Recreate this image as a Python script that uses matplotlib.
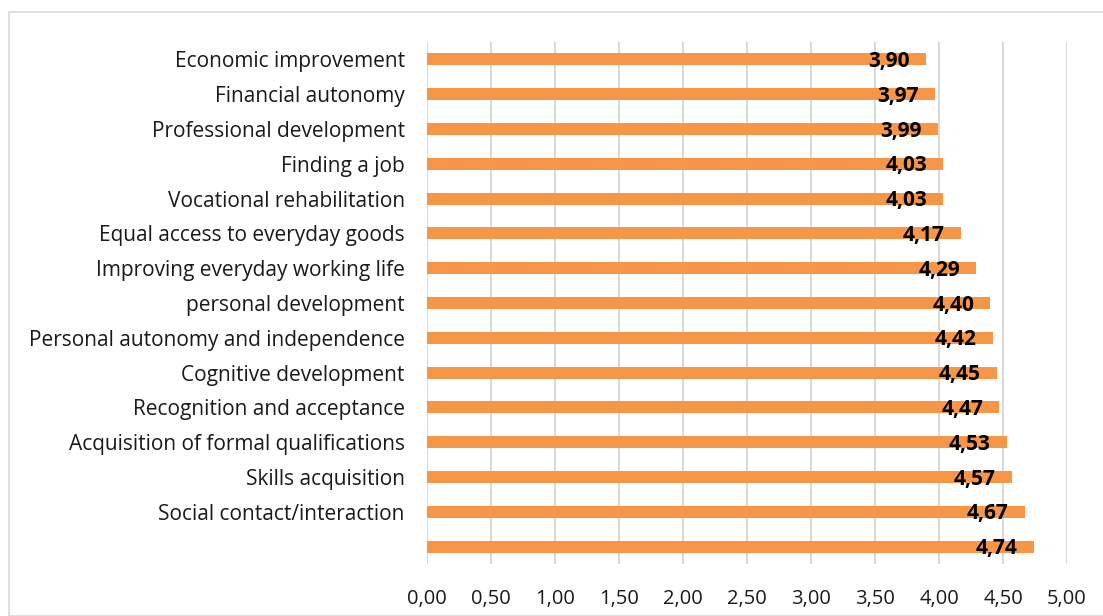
import matplotlib
matplotlib.use('Agg')
import matplotlib.pyplot as plt
from matplotlib.patches import Rectangle

categories = ['Economic improvement', 'Financial autonomy', 'Professional development',
              'Finding a job', 'Vocational rehabilitation', 'Equal access to everyday goods',
              'Improving everyday working life', 'personal development',
              'Personal autonomy and independence', 'Cognitive development',
              'Recognition and acceptance', 'Acquisition of formal qualifications',
              'Skills acquisition', 'Social contact/interaction', '']
values = [3.90, 3.97, 3.99, 4.03, 4.03, 4.17, 4.29, 4.40, 4.42, 4.45, 4.47, 4.53, 4.57, 4.67, 4.74]
xticks = [0, 0.5, 1, 1.5, 2, 2.5, 3, 3.5, 4, 4.5, 5]

plt.rcParams['font.family'] = ['Open Sans', 'DejaVu Sans']

fig = plt.figure(figsize=(11.03, 6.16), dpi=100)
ax = fig.add_axes([0.3871, 0.0844, 0.5803, 0.8474])

# light frame around the chart
fig.patches.append(Rectangle((9 / 1103, 0), 1.2, 1 - 12 / 616, transform=fig.transFigure,
                             fill=False, edgecolor='#d9d9d9', linewidth=1.2))

y = list(range(len(categories)))
ax.barh(y, values, height=0.345, color='#F79646', zorder=3)

for yi, v in zip(y, values):
    ax.text(v - 0.125, yi + 0.06, ('%.2f' % v).replace('.', ','), ha='right', va='center',
            fontsize=15, fontweight='bold', color='black', zorder=4)

ax.set_yticks(y)
ax.set_yticklabels(categories, fontsize=15, color='#1a1a1a')
ax.set_ylim(len(categories) - 0.5, -0.5)
ax.set_xlim(0, 5)
ax.set_xticks(xticks)
ax.set_xticklabels([('%.2f' % t).replace('.', ',') for t in xticks], fontsize=14.5, color='#1a1a1a')
ax.tick_params(length=0)
ax.tick_params(axis='x', pad=18)
ax.tick_params(axis='y', pad=16)
ax.grid(axis='x', color='#d9d9d9', linewidth=1.5, zorder=0)
for s in ax.spines.values():
    s.set_visible(False)

fig.savefig('out.png', dpi=100)
